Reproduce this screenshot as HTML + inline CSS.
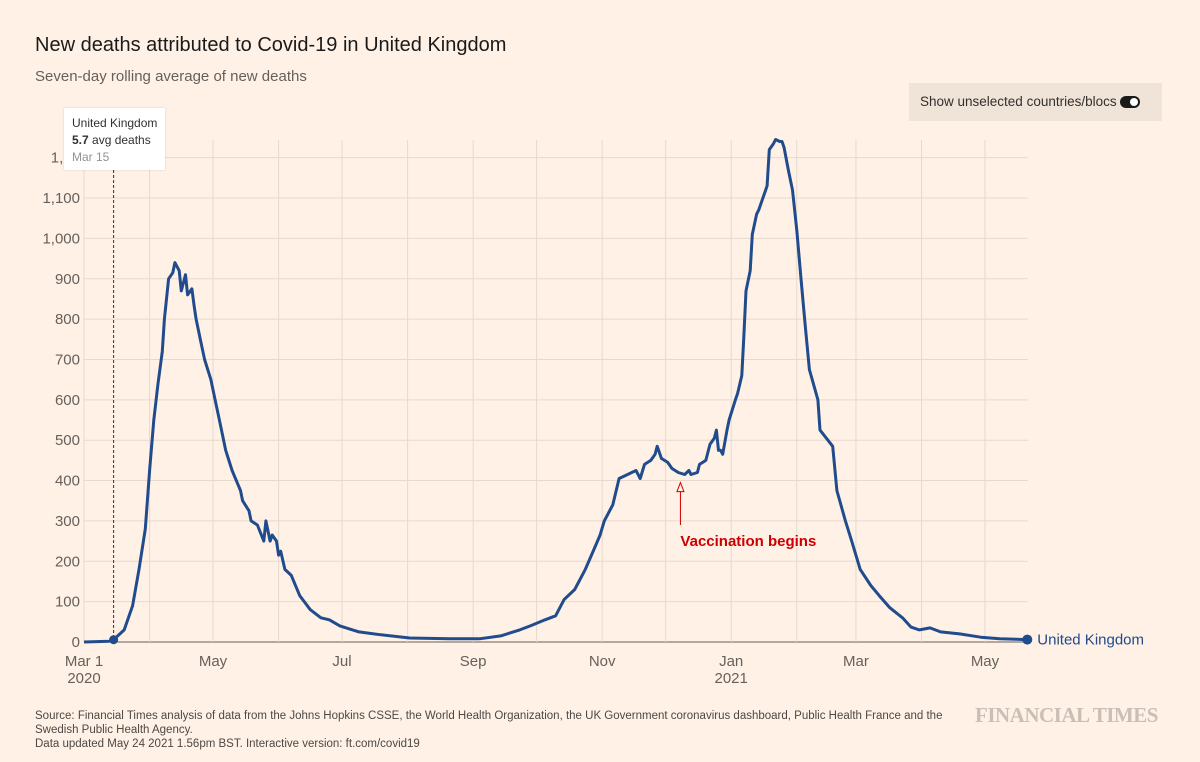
<!DOCTYPE html>
<html><head><meta charset="utf-8">
<style>
body{margin:0;background:#fff1e5;font-family:"Liberation Sans",sans-serif;}
#wrap{position:relative;width:1200px;height:762px;overflow:hidden;background:#fff1e5;}
.t{position:absolute;white-space:nowrap;}
</style></head><body>
<div id="wrap">
<div class="t" style="left:35px;top:34px;font-size:20px;color:#1a1a1a;">New deaths attributed to Covid-19 in United Kingdom</div>
<div class="t" style="left:35px;top:68px;font-size:15px;color:#66605c;">Seven-day rolling average of new deaths</div>
<div style="position:absolute;left:909px;top:83px;width:253px;height:38px;background:#f0e3d8;">
<span class="t" style="left:11px;top:11px;font-size:13.5px;color:#33302e;">Show unselected countries/blocs</span>
<span style="position:absolute;left:211px;top:13px;width:20px;height:12px;border-radius:6px;background:#1a1a1a;"><span style="position:absolute;right:2px;top:2px;width:8px;height:8px;border-radius:4px;background:#fff;"></span></span>
</div>
<svg id="chart" width="1200" height="762" style="position:absolute;left:0;top:0;"></svg>
<div style="position:absolute;left:64px;top:108px;width:101px;height:62px;background:#fff;box-shadow:0 0 2px rgba(0,0,0,0.15);">
<div class="t" style="left:8px;top:8px;font-size:12px;color:#33302e;">United Kingdom</div>
<div class="t" style="left:8px;top:25px;font-size:12px;color:#33302e;"><b>5.7</b> avg deaths</div>
<div class="t" style="left:8px;top:42px;font-size:12px;color:#99918b;">Mar 15</div>
</div>
<div class="t" style="left:35px;top:709px;font-size:11.5px;color:#4d4845;line-height:14px;">Source: Financial Times analysis of data from the Johns Hopkins CSSE, the World Health Organization, the UK Government coronavirus dashboard, Public Health France and the<br>Swedish Public Health Agency.<br>Data updated May 24 2021 1.56pm BST. Interactive version: ft.com/covid19</div>
<div class="t" style="left:975px;top:703px;font-family:'Liberation Serif',serif;font-size:21px;font-weight:bold;color:#c9bfb6;letter-spacing:-0.5px;">FINANCIAL TIMES</div>
</div>
<script>
const days=[0,12,14,19,23,26,29,31,33,35,37,38,40,42,43,45,46,48,49,51,52,53,55,57,60,62,64,67,70,74,75,78,79,82,85,86,88,89,91,92,93,95,98,102,107,112,116,121,130,140,154,173,187,197,206,211,218,223,227,232,237,242,244,246,250,253,257,261,263,265,268,270,271,273,276,278,281,284,286,287,290,291,294,296,298,299,300,301,302,304,305,308,309,311,312,313,315,316,318,319,321,322,323,324,326,327,329,330,331,333,335,337,339,341,343,347,348,354,356,360,363,367,372,376,381,387,391,395,400,405,414,424,433,446];
const deaths=[0,2,5.7,30,90,180,280,425,550,640,720,800,900,915,940,920,870,910,860,875,835,800,750,700,650,600,550,475,425,375,350,325,300,290,250,300,250,265,250,215,225,180,165,115,80,60,55,40,25,18,10,8,8,15,30,40,55,65,105,130,180,240,265,300,340,405,415,425,405,440,450,465,485,455,445,430,420,415,425,415,420,440,450,490,505,525,475,475,465,525,550,600,615,660,760,870,920,1010,1060,1070,1100,1115,1130,1220,1235,1245,1240,1240,1225,1170,1120,1020,900,785,675,600,525,485,375,300,250,180,140,115,85,60,37,30,35,25,20,12,8,6];
const yTicks=[0,100,200,300,400,500,600,700,800,900,1000,1100,1200];
const yLabels=["0","100","200","300","400","500","600","700","800","900","1,000","1,100","1,20"];
const monthDays=[0,31,61,92,122,153,184,214,245,275,306,337,365,396,426];
const xLabelDays=[0,61,122,184,245,306,365,426];
const xLabels=["Mar 1","May","Jul","Sep","Nov","Jan","Mar","May"];
const xSub={0:"2020",306:"2021"};
const x=d=>84+d*2.115;
const y=v=>642-v*0.4036;
const svg=document.getElementById('chart');
const NS="http://www.w3.org/2000/svg";
function mk(tag,attrs){const e=document.createElementNS(NS,tag);for(const k in attrs)e.setAttribute(k,attrs[k]);svg.appendChild(e);return e;}
yTicks.forEach((v,i)=>{
 const l=mk('line',{x1:84,x2:1028,y1:y(v),y2:y(v),stroke:i==0?'#66605c':'#e6d9ce','stroke-width':1});
 
 
 const t=mk('text',{x:80,y:y(v)+5,'text-anchor':'end','font-size':15,fill:'#66605c','font-family':'Liberation Sans, sans-serif'});
 t.textContent=yLabels[i];
 
 
});
monthDays.forEach(d=>{
 const l=mk('line',{x1:x(d),x2:x(d),y1:140,y2:642,stroke:'#e6d9ce','stroke-width':1});
 
 
});
xLabelDays.forEach((d,i)=>{
 const t=mk('text',{x:x(d),y:666,'text-anchor':'middle','font-size':15,fill:'#66605c','font-family':'Liberation Sans, sans-serif'});
 t.textContent=xLabels[i];
 
 
 if(xSub[d]){const s=mk('text',{x:x(d),y:683,'text-anchor':'middle','font-size':15,fill:'#66605c','font-family':'Liberation Sans, sans-serif'});
 s.textContent=xSub[d];
 
 }
});
const dash=mk('line',{x1:x(14),x2:x(14),y1:170,y2:642,stroke:'#33302e','stroke-dasharray':'3,2','stroke-width':1});


const p=mk('path',{d:days.map((d,i)=>(i?'L':'M')+x(d).toFixed(1)+','+y(deaths[i]).toFixed(1)).join(''),fill:'none',stroke:'#204b8c','stroke-width':3,'stroke-linejoin':'round'});


const hd=mk('circle',{cx:x(14),cy:y(5.7),r:4.5,fill:'#204b8c'});


const last=days.length-1;
const ed=mk('circle',{cx:x(days[last]),cy:y(deaths[last]),r:5,fill:'#204b8c'});


const el=mk('text',{x:x(days[last])+10,y:y(deaths[last])+5,'font-size':15,fill:'#204b8c','font-family':'Liberation Sans, sans-serif'});
el.textContent='United Kingdom';


const vd=282;
const ar=mk('line',{x1:x(vd),x2:x(vd),y1:y(395),y2:525,stroke:'#cc0000','stroke-width':1});


const ah=mk('path',{d:`M${x(vd)},${y(395)} l-3.5,9 l7,0 z`,fill:'#fff1e5',stroke:'#cc0000','stroke-width':1});


const vt=mk('text',{x:x(vd),y:546,'font-size':15,'font-weight':600,fill:'#cc0000','font-family':'Liberation Sans, sans-serif'});
vt.textContent='Vaccination begins';


</script>
</body></html>
